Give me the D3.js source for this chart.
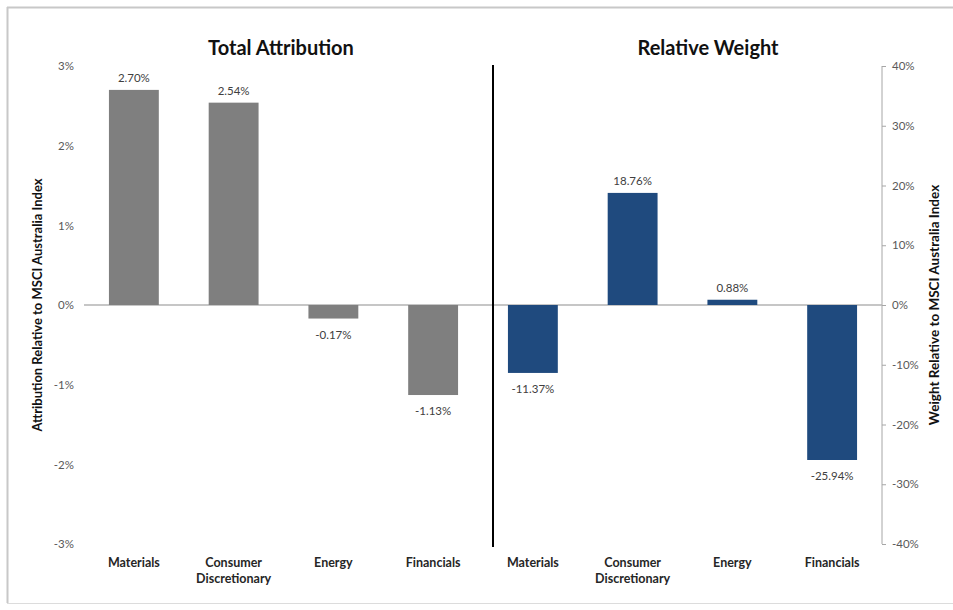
<!DOCTYPE html>
<html><head><meta charset="utf-8">
<script src="https://cdn.jsdelivr.net/npm/d3@7"></script>
<style>body{margin:0;background:#fff;} svg{display:block;font-family:Lato,"Open Sans",sans-serif;}</style>
</head><body>
<svg id="c" width="953" height="610"></svg>
<script>
const categories = ["Materials", "Consumer Discretionary", "Energy", "Financials"];
const attribution = [2.70, 2.54, -0.17, -1.13];
const relativeWeight = [-11.37, 18.76, 0.88, -25.94];
const leftTicks = [3, 2, 1, 0, -1, -2, -3];
const rightTicks = [40, 30, 20, 10, 0, -10, -20, -30, -40];
const titles = ["Total Attribution", "Relative Weight"];
const leftAxisTitle = "Attribution Relative to MSCI Australia Index";
const rightAxisTitle = "Weight Relative to MSCI Australia Index";

const svg = d3.select("#c");
const W = 953, H = 610;
// outer frame
svg.append("line").attr("x1",7).attr("x2",W).attr("y1",7.5).attr("y2",7.5).attr("stroke","#c8c8c8").attr("stroke-width",2);
svg.append("line").attr("x1",7.5).attr("x2",7.5).attr("y1",7).attr("y2",603).attr("stroke","#c8c8c8").attr("stroke-width",2);
svg.append("line").attr("x1",7).attr("x2",W).attr("y1",603.5).attr("y2",603.5).attr("stroke","#dcdcdc").attr("stroke-width",1);

const x0 = 84, x1 = 882, yTop = 66, yBot = 544;
const slots = [];
categories.forEach(c => slots.push("L|" + c));
categories.forEach(c => slots.push("R|" + c));
const x = d3.scaleBand().domain(slots).range([x0, x1]).paddingInner(0.5).paddingOuter(0.25);
const yL = d3.scaleLinear().domain([-3, 3]).range([yBot, yTop]);
const yR = d3.scaleLinear().domain([-40, 40]).range([yBot, yTop]);

// left tick labels (no axis line)
const gL = svg.append("g").attr("transform", `translate(${x0},0)`)
  .call(d3.axisLeft(yL).tickValues(leftTicks).tickSize(0).tickPadding(10).tickFormat(d => d + "%"));
gL.select(".domain").remove();
gL.selectAll("text").attr("font-size", 11.5).attr("fill", "#595959").attr("font-family","Lato,sans-serif");

// right axis
const gR = svg.append("g").attr("transform", `translate(${x1},0)`)
  .call(d3.axisRight(yR).tickValues(rightTicks).tickSize(4).tickPadding(6).tickFormat(d => d + "%"));
gR.select(".domain").attr("stroke", "#a6a6a6").attr("d", `M0,${yTop}V${yBot}`);
gR.selectAll(".tick line").attr("stroke", "#a6a6a6");
gR.selectAll("text").attr("font-size", 11.5).attr("fill", "#595959").attr("font-family","Lato,sans-serif");

// zero line
svg.append("line").attr("x1", x0).attr("x2", x1).attr("y1", yL(0)).attr("y2", yL(0))
  .attr("stroke", "#b3b3b3").attr("stroke-width", 1.5);

const leftData = categories.map((c, i) => ({key: "L|" + c, v: attribution[i]}));
const rightData = categories.map((c, i) => ({key: "R|" + c, v: relativeWeight[i]}));

svg.selectAll(".bl").data(leftData).enter().append("rect")
  .attr("x", d => x(d.key)).attr("width", x.bandwidth())
  .attr("y", d => yL(Math.max(0, d.v))).attr("height", d => Math.abs(yL(d.v) - yL(0)))
  .attr("fill", "#7f7f7f");
svg.selectAll(".br").data(rightData).enter().append("rect")
  .attr("x", d => x(d.key)).attr("width", x.bandwidth())
  .attr("y", d => yR(Math.max(0, d.v))).attr("height", d => Math.abs(yR(d.v) - yR(0)))
  .attr("fill", "#1f4a7e");

// value labels
function vlabels(data, y) {
  svg.selectAll(null).data(data).enter().append("text")
    .attr("x", d => x(d.key) + x.bandwidth() / 2)
    .attr("y", d => d.v >= 0 ? y(d.v) - 8 : y(d.v) + 20)
    .attr("text-anchor", "middle").attr("font-size", 11.5).attr("fill", "#404040")
    .text(d => d.v.toFixed(2) + "%");
}
vlabels(leftData, yL);
vlabels(rightData, yR);

// divider
svg.append("line").attr("x1", 493).attr("x2", 493).attr("y1", 65).attr("y2", 547)
  .attr("stroke", "#000").attr("stroke-width", 2);

// category labels
const allCats = leftData.concat(rightData);
allCats.forEach(d => {
  const name = d.key.split("|")[1];
  const words = name.split(" ");
  const cx = x(d.key) + x.bandwidth() / 2;
  const t = svg.append("text").attr("x", cx).attr("y", 567)
    .attr("text-anchor", "middle").attr("font-size", 12.5).attr("font-weight", "bold").attr("fill", "#262626");
  words.forEach((w, i) => t.append("tspan").attr("x", cx).attr("dy", i ? 16 : 0).text(w));
});

// titles
svg.append("text").attr("x", 281).attr("y", 55).attr("text-anchor", "middle")
  .attr("font-size", 20).attr("font-weight", "bold").attr("fill", "#111").text(titles[0]);
svg.append("text").attr("x", 708).attr("y", 55).attr("text-anchor", "middle")
  .attr("font-size", 20).attr("font-weight", "bold").attr("fill", "#111").text(titles[1]);

// axis titles
svg.append("text").attr("transform", `translate(42,${yL(0)}) rotate(-90)`).attr("text-anchor", "middle")
  .attr("font-size", 13).attr("font-weight", "bold").attr("fill", "#111").text(leftAxisTitle);
svg.append("text").attr("transform", `translate(939,${yL(0)}) rotate(-90)`).attr("text-anchor", "middle")
  .attr("font-size", 13.5).attr("font-weight", "bold").attr("fill", "#111").text(rightAxisTitle);
</script>
</body></html>
